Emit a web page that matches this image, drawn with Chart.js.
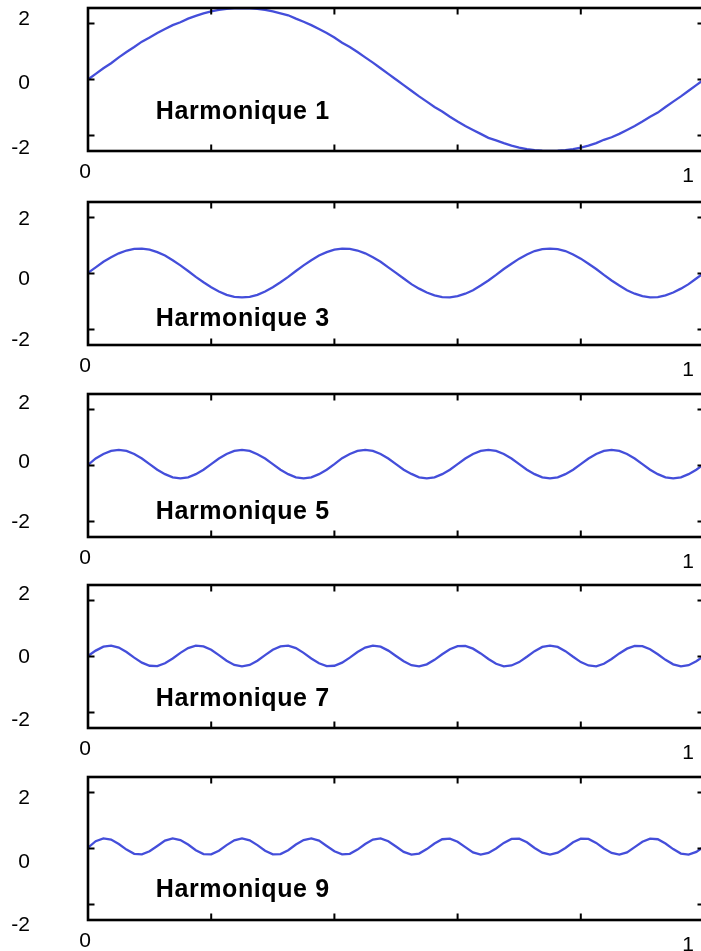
<!DOCTYPE html>
<html><head><meta charset="utf-8">
<script src="https://cdn.jsdelivr.net/npm/chart.js@4/dist/chart.umd.min.js"></script>
<style>
html,body{margin:0;padding:0;background:#fff;width:701px;height:951px;overflow:hidden;position:relative}
canvas{position:absolute;left:0}
</style></head><body>
<canvas id="c0"></canvas><canvas id="c1"></canvas><canvas id="c2"></canvas><canvas id="c3"></canvas><canvas id="c4"></canvas>
<script>
// ---------- data ----------
const tValues = [
0,0.0125,0.025,0.0375,0.05,0.0625,0.075,0.0875,
0.1,0.1125,0.125,0.1375,0.15,0.1625,0.175,0.1875,
0.2,0.2125,0.225,0.2375,0.25,0.2625,0.275,0.2875,
0.3,0.3125,0.325,0.3375,0.35,0.3625,0.375,0.3875,
0.4,0.4125,0.425,0.4375,0.45,0.4625,0.475,0.4875,
0.5,0.5125,0.525,0.5375,0.55,0.5625,0.575,0.5875,
0.6,0.6125,0.625,0.6375,0.65,0.6625,0.675,0.6875,
0.7,0.7125,0.725,0.7375,0.75,0.7625,0.775,0.7875,
0.8,0.8125,0.825,0.8375,0.85,0.8625,0.875,0.8875,
0.9,0.9125,0.925,0.9375,0.95,0.9625,0.975,0.9875,
1];

const harm1 = [
0.00,0.20,0.40,0.58,0.79,0.98,1.16,1.35,1.50,1.66,
1.80,1.94,2.04,2.17,2.27,2.36,2.43,2.48,2.52,2.54,
2.55,2.54,2.52,2.48,2.43,2.36,2.29,2.17,2.06,1.94,
1.80,1.66,1.50,1.31,1.16,0.98,0.79,0.60,0.40,0.20,
0.00,-0.20,-0.40,-0.60,-0.79,-0.98,-1.14,-1.33,-1.50,-1.66,
-1.80,-1.94,-2.08,-2.17,-2.27,-2.36,-2.43,-2.48,-2.52,-2.54,
-2.55,-2.54,-2.52,-2.48,-2.43,-2.36,-2.27,-2.15,-2.06,-1.94,
-1.80,-1.66,-1.50,-1.33,-1.18,-0.98,-0.79,-0.60,-0.40,-0.20,
0.00];

const harm3 = [
0.02,0.22,0.42,0.58,0.72,0.82,0.88,0.89,0.85,0.76,
0.64,0.47,0.29,0.09,-0.12,-0.31,-0.49,-0.64,-0.76,-0.83,
-0.85,-0.83,-0.76,-0.64,-0.49,-0.31,-0.12,0.09,0.29,0.47,
0.64,0.76,0.85,0.89,0.88,0.82,0.72,0.58,0.42,0.22,
0.02,-0.18,-0.38,-0.54,-0.68,-0.78,-0.84,-0.85,-0.81,-0.72,
-0.60,-0.43,-0.25,-0.05,0.16,0.35,0.53,0.68,0.80,0.87,
0.89,0.87,0.80,0.68,0.53,0.35,0.16,-0.05,-0.25,-0.43,
-0.60,-0.72,-0.81,-0.85,-0.84,-0.78,-0.68,-0.54,-0.38,-0.18,
0.02];

const harm5 = [
0.02,0.25,0.41,0.52,0.56,0.52,0.41,0.25,0.05,-0.15,-0.31,-0.42,-0.46,-0.42,-0.31,-0.15,
0.05,0.25,0.41,0.52,0.56,0.52,0.40,0.25,0.05,-0.15,-0.31,-0.42,-0.46,-0.42,-0.31,-0.15,
0.05,0.26,0.41,0.52,0.56,0.52,0.41,0.25,0.05,-0.15,-0.30,-0.42,-0.46,-0.42,-0.31,-0.15,
0.05,0.25,0.41,0.52,0.56,0.52,0.41,0.25,0.05,-0.15,-0.31,-0.42,-0.46,-0.42,-0.31,-0.15,
0.05,0.25,0.41,0.52,0.56,0.52,0.41,0.25,0.05,-0.15,-0.31,-0.42,-0.46,-0.42,-0.31,-0.15,
0.05];

const harm7 = [
0.02,0.21,0.35,0.39,0.32,0.16,-0.04,-0.22,-0.33,-0.34,
-0.24,-0.07,0.13,0.30,0.39,0.36,0.24,0.05,-0.15,-0.30,
-0.35,-0.30,-0.15,0.05,0.24,0.36,0.39,0.30,0.13,-0.07,
-0.24,-0.34,-0.33,-0.22,-0.04,0.16,0.32,0.39,0.35,0.21,
0.02,-0.17,-0.31,-0.35,-0.28,-0.12,0.08,0.26,0.37,0.38,
0.28,0.11,-0.09,-0.26,-0.35,-0.32,-0.20,-0.01,0.19,0.34,
0.39,0.34,0.19,-0.01,-0.20,-0.32,-0.35,-0.26,-0.09,0.11,
0.28,0.38,0.37,0.26,0.08,-0.12,-0.28,-0.35,-0.31,-0.17,
0.02];

const harm9 = [
0.03,0.26,0.36,0.32,0.16,-0.04,-0.19,-0.21,-0.10,0.09,
0.28,0.36,0.30,0.14,-0.06,-0.20,-0.21,-0.08,0.12,0.29,
0.36,0.29,0.12,-0.08,-0.21,-0.20,-0.06,0.14,0.30,0.36,
0.28,0.09,-0.10,-0.21,-0.19,-0.04,0.16,0.32,0.36,0.26,
0.07,-0.12,-0.22,-0.18,-0.02,0.18,0.33,0.35,0.24,0.05,
-0.14,-0.22,-0.16,0.00,0.20,0.34,0.35,0.22,0.02,-0.15,
-0.22,-0.15,0.02,0.22,0.35,0.34,0.20,0.00,-0.16,-0.22,
-0.14,0.05,0.24,0.35,0.33,0.18,-0.02,-0.18,-0.22,-0.12,
0.07];

const seriesList = [harm1, harm3, harm5, harm7, harm9];
const noteTexts = ['Harmonique 1','Harmonique 3','Harmonique 5','Harmonique 7','Harmonique 9'];
const yTickValues = [2, 0, -2];
const xLabelValues = [0, 1];
const xMinorTicks = [0.2, 0.4, 0.6, 0.8];

// ---------- layout / style ----------
const canvasTops = [0, 194, 386, 577, 769];
const yLabelRanges = [[-2.090, 2.344], [-2.162, 2.565], [-2.497, 2.309], [-2.254, 2.286], [-1.827, 2.677]];
const notePos = [[0.11, -1.42], [0.11, -1.88], [0.11, -1.91], [0.11, -1.76], [0.11, -1.74]];
const FONT = '"Liberation Sans", Arial, Helvetica, sans-serif';
const LINE_COLOR = 'rgb(68, 78, 218)';

const framePlugin = {
  id: 'frame',
  afterDatasetsDraw(chart, args, opts) {
    const {ctx, chartArea: a} = chart;
    const x = chart.scales.x, y = chart.scales.y;
    ctx.save();
    ctx.strokeStyle = '#000';
    ctx.lineWidth = 2.6;
    ctx.strokeRect(a.left, a.top, a.right - a.left, a.bottom - a.top);
    ctx.lineWidth = 2;
    ctx.beginPath();
    for (const v of xMinorTicks) {
      const px = x.getPixelForValue(v);
      ctx.moveTo(px, a.top); ctx.lineTo(px, a.top + 6.5);
      ctx.moveTo(px, a.bottom); ctx.lineTo(px, a.bottom - 6.5);
    }
    for (const v of yTickValues) {
      const py = y.getPixelForValue(v);
      ctx.moveTo(a.left, py); ctx.lineTo(a.left + 6.5, py);
      ctx.moveTo(a.right, py); ctx.lineTo(a.right - 6.5, py);
    }
    ctx.stroke();
    ctx.font = 'bold 25px ' + FONT;
    try { ctx.letterSpacing = '0.6px'; } catch (e) {}
    ctx.fillStyle = '#000';
    ctx.textAlign = 'left';
    ctx.textBaseline = 'alphabetic';
    ctx.fillText(opts.text, x.getPixelForValue(opts.at[0]), y.getPixelForValue(opts.at[1]));
    try { ctx.letterSpacing = '0px'; } catch (e) {}
    ctx.restore();
  }
};

seriesList.forEach((series, i) => {
  const cv = document.getElementById('c' + i);
  cv.width = 710; cv.height = 191;
  cv.style.top = canvasTops[i] + 'px';
  new Chart(cv, {
    type: 'line',
    data: {
      datasets: [{
        data: tValues.map((t, k) => ({x: t, y: series[k]})),
        xAxisID: 'x', yAxisID: 'y',
        borderColor: LINE_COLOR, borderWidth: 2.3, pointRadius: 0, tension: 0, fill: false
      }]
    },
    options: {
      responsive: false, animation: false, events: [],
      layout: {padding: {top: 8, right: 6, left: 0, bottom: 0}},
      plugins: {legend: {display: false}, tooltip: {enabled: false},
        frame: {text: noteTexts[i], at: notePos[i]}},
      scales: {
        x: {type: 'linear', min: 0, max: 1, display: false},
        y: {type: 'linear', min: -2.55, max: 2.55, display: false},
        xl: {type: 'linear', axis: 'x', position: 'bottom', min: 0.004975, max: 1.026534,
          grid: {display: false, drawTicks: false}, border: {display: false},
          afterBuildTicks: s => { s.ticks = xLabelValues.map(v => ({value: v})); },
          afterFit: s => { s.height = 40; s.paddingLeft = 0; s.paddingRight = 0; },
          ticks: {padding: 9, color: '#000', autoSkip: false, maxRotation: 0,
            font: c => ({family: FONT, size: 21, lineHeight: c.index === 1 ? 1.55 : 1.2}),
            callback: v => String(v)}},
        yl: {type: 'linear', axis: 'y', position: 'left', min: yLabelRanges[i][0], max: yLabelRanges[i][1],
          grid: {display: false, drawTicks: false}, border: {display: false},
          afterBuildTicks: s => { s.ticks = yTickValues.map(v => ({value: v})); },
          afterFit: s => { s.width = 88; s.paddingTop = 0; s.paddingBottom = 0; },
          ticks: {padding: 58, color: '#000', autoSkip: false,
            font: {family: FONT, size: 21}, callback: v => String(v)}}
      }
    },
    plugins: [framePlugin]
  });
});
</script>
</body></html>
